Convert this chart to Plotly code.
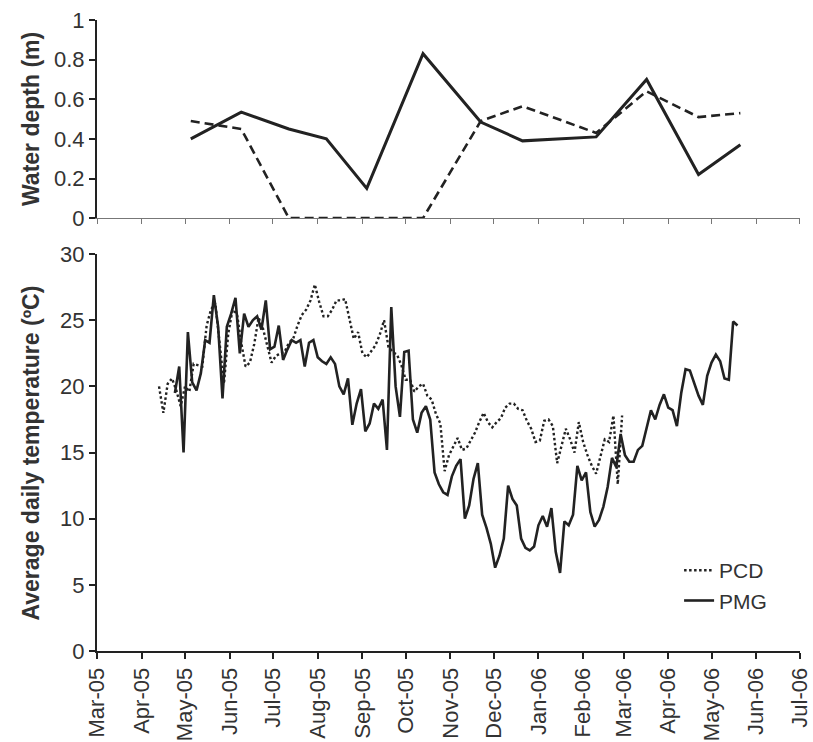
import pandas as pd
import plotly.graph_objects as go

# ---- Water depth (top panel) ----
depth_dates = ["2005-05-05", "2005-06-09", "2005-07-12", "2005-08-07", "2005-09-04",
               "2005-10-13", "2005-11-22", "2005-12-21", "2006-02-10", "2006-03-17",
               "2006-04-22", "2006-05-21"]
depth_pmg = [0.40, 0.535, 0.45, 0.40, 0.15, 0.83, 0.485, 0.39, 0.41, 0.70, 0.22, 0.37]
depth_pcd = [0.49, 0.45, 0.0, 0.0, 0.0, 0.0, 0.49, 0.565, 0.43, 0.64, 0.51, 0.53]

# ---- Average daily temperature (bottom panel), read every 3rd day ----
pcd_start = "2005-04-13"
pcd_temp = [20, 18, 20.2, 20.6, 19.7, 18.5, 20, 19.6, 21.7, 21.6,
            21.5, 24.6, 25.8, 26.3, 23.3, 20.2, 24, 25.8, 25.5, 23.3,
            21.5, 21.8, 23.2, 25.2, 24.4, 23.2, 21.8, 22.3, 22.5, 22.6,
            23.3, 23.6, 24.6, 25.4, 25.8, 26.5, 27.7, 26.4, 25.3, 25.3,
            25.8, 26.5, 26.5, 26.6, 25.2, 23.6, 24.1, 22.5, 22.2, 22.7,
            23.1, 23.9, 25, 23, 22.6, 22.4, 21.6, 20.5, 20.5, 19.6,
            20, 20.2, 19.3, 19, 17.9, 17.2, 13.6, 14.8, 15.4, 16.1,
            15.2, 15.3, 15.9, 16.5, 17.3, 18, 17.3, 16.9, 17.3, 17.6,
            18.4, 18.7, 18.7, 18.3, 18.2, 17.4, 16.8, 15.8, 15.9, 17.4,
            17.5, 17, 14.2, 15.6, 16.8, 16, 15, 17.3, 15.8, 14.8,
            14, 13.4, 14.6, 16, 15.8, 17.8, 12.6, 17.8]

pmg_start = "2005-04-24"
pmg_temp = [19.5, 21.5, 15.0, 24.1, 20.3, 19.7, 21, 23.5, 23.3, 26.9,
            24.5, 19.1, 24.5, 25.5, 26.7, 22.5, 25.5, 24.5, 25, 25.3,
            24.3, 26.5, 22.8, 23, 24.6, 22, 22.8, 23.5, 23.3, 23.5,
            21.5, 23.3, 23.5, 22.2, 21.9, 21.7, 22.2, 21.7, 20, 19.4,
            20.6, 17.1, 18.7, 19.8, 16.6, 17.2, 18.7, 18.3, 19, 15.2,
            26, 20, 17.7, 22.6, 22.7, 17.5, 16.5, 18, 18.5, 17.5,
            13.5, 12.6, 12, 11.8, 13.2, 14, 14.5, 10, 11, 13,
            14.2, 10.3, 9.3, 8.1, 6.3, 7.2, 8.5, 12.5, 11.5, 11,
            8.5, 7.8, 7.6, 7.9, 9.5, 10.2, 9.4, 10.8, 7.5, 5.9,
            9.8, 9.5, 10.3, 14, 12.9, 13.5, 10.5, 9.4, 9.9, 10.9,
            12.4, 14.6, 13.9, 16.4, 14.8, 14.3, 14.3, 15.2, 15.5, 16.8,
            18.2, 17.5, 18.6, 19.4, 18.4, 18.2, 17, 19.5, 21.3, 21.2,
            20.3, 19.3, 18.6, 20.8, 21.8, 22.4, 21.9, 20.6, 20.5, 24.9,
            24.6]

x_range = ["2005-03-01", "2006-07-01 08:00"]
depth_ticks = [0, 0.2, 0.4, 0.6, 0.8, 1]
temp_ticks = [0, 5, 10, 15, 20, 25, 30]

pcd_dates = pd.date_range(pcd_start, periods=len(pcd_temp), freq="3D")
pmg_dates = pd.date_range(pmg_start, periods=len(pmg_temp), freq="3D")

INK = "#222222"
FONT = "Liberation Sans, Arial, sans-serif"

fig = go.Figure()

# top panel
fig.add_trace(go.Scatter(x=depth_dates, y=depth_pcd, mode="lines", xaxis="x2", yaxis="y2",
                         line=dict(color=INK, width=2.6, dash="9px,5px"), showlegend=False))
fig.add_trace(go.Scatter(x=depth_dates, y=depth_pmg, mode="lines", xaxis="x2", yaxis="y2",
                         line=dict(color=INK, width=3), showlegend=False))

# bottom panel
fig.add_trace(go.Scatter(x=pcd_dates, y=pcd_temp, mode="lines", name="PCD",
                         line=dict(color=INK, width=2.4, dash="2.5px,2.5px")))
fig.add_trace(go.Scatter(x=pmg_dates, y=pmg_temp, mode="lines", name="PMG",
                         line=dict(color=INK, width=2.6)))

tickfont = dict(family=FONT, size=22, color="#333333")

fig.update_layout(
    width=813, height=742,
    margin=dict(l=97, r=13, t=20, b=91, autoexpand=False),
    paper_bgcolor="white", plot_bgcolor="white",
    font=dict(family=FONT, color="#333333"),
    xaxis=dict(domain=[0, 1], anchor="y", range=x_range, type="date",
               tick0="2005-03-01", dtick="M1", tickformat="%b-%y", tickangle=-90,
               ticks="outside", ticklen=6, tickwidth=1.5, tickcolor=INK,
               showline=True, linecolor=INK, linewidth=2, showgrid=False, zeroline=False,
               tickfont=tickfont, automargin=False, ticklabeloverflow="allow"),
    yaxis=dict(domain=[0, 0.629], range=[0, 30], tickvals=temp_ticks,
               ticks="outside", ticklen=6, tickwidth=1.5, tickcolor=INK,
               showline=True, linecolor=INK, linewidth=2.2, showgrid=False, zeroline=False,
               tickfont=tickfont, automargin=False),
    xaxis2=dict(domain=[0, 1], anchor="y2", range=x_range, type="date",
                tick0="2005-03-01", dtick="M1", showticklabels=False,
                ticks="outside", ticklen=5, tickwidth=1.2, tickcolor="#777777",
                showline=True, linecolor="#777777", linewidth=1.3, showgrid=False,
                zeroline=False, automargin=False),
    yaxis2=dict(domain=[0.686, 1], range=[0, 1], tickvals=depth_ticks,
                ticks="outside", ticklen=6, tickwidth=1.5, tickcolor=INK,
                showline=True, linecolor=INK, linewidth=2.2, showgrid=False, zeroline=False,
                tickfont=tickfont, automargin=False),
    legend=dict(x=0.828, y=0.16, xanchor="left", yanchor="top",
                font=dict(family=FONT, size=21, color="#333333"),
                bgcolor="rgba(0,0,0,0)", tracegroupgap=0, itemwidth=30),
    annotations=[
        dict(text="<b>Water depth (m)</b>", xref="paper", yref="paper",
             x=-0.094, y=0.843, xanchor="center", yanchor="middle", textangle=-90,
             showarrow=False, font=dict(family=FONT, size=23, color="#333333")),
        dict(text="<b>Average daily temperature (ºC)</b>", xref="paper", yref="paper",
             x=-0.094, y=0.3145, xanchor="center", yanchor="middle", textangle=-90,
             showarrow=False, font=dict(family=FONT, size=23, color="#333333")),
    ],
)

fig.write_html("out.html")
